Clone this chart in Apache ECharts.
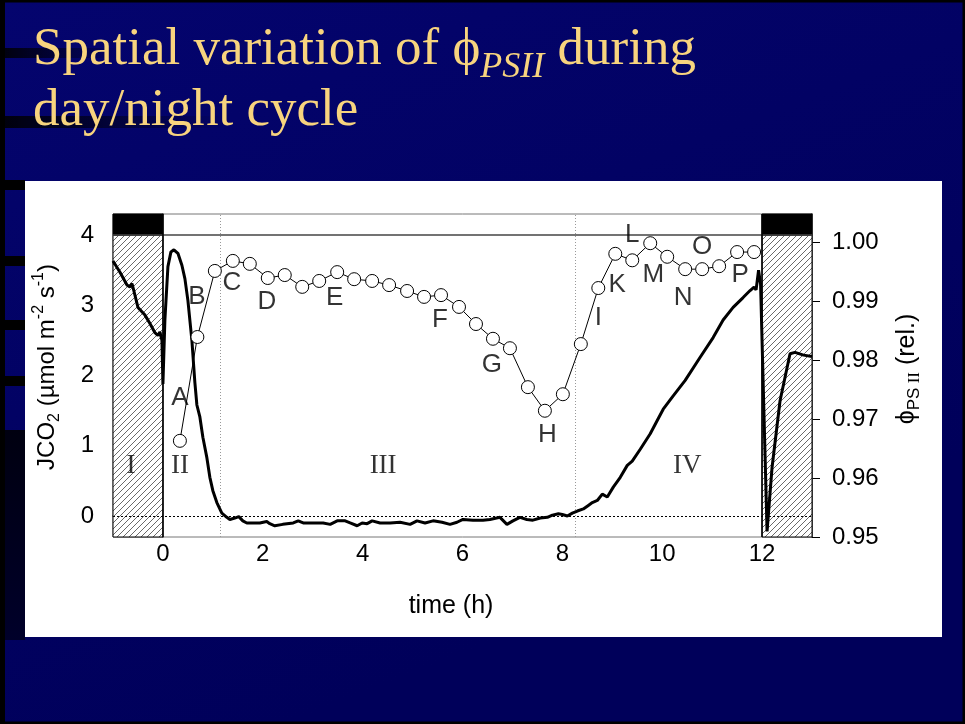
<!DOCTYPE html>
<html><head><meta charset="utf-8">
<script src="https://cdn.jsdelivr.net/npm/echarts@6/dist/echarts.min.js"></script>
<style>html,body{margin:0;padding:0;background:#000066;} #c{width:965px;height:724px;}</style>
</head><body><div id="c"></div>
<script>
// ---------- data ----------
const xTicks = [0, 2, 4, 6, 8, 10, 12];
const leftTicks = [0, 1, 2, 3, 4];
const rightTicks = [0.95, 0.96, 0.97, 0.98, 0.99, 1.00];

// phi PSII (open circles, right axis)
const phiTime = [0.34,0.69,1.04,1.40,1.74,2.10,2.44,2.79,3.13,3.49,3.83,4.19,4.53,4.89,5.23,5.57,5.93,6.27,6.61,6.95,7.31,7.65,8.01,8.37,8.72,9.06,9.40,9.76,10.10,10.46,10.80,11.14,11.50,11.84];
const phiValues = [0.9663,0.9839,0.9951,0.9968,0.9963,0.9939,0.9944,0.9924,0.9934,0.9949,0.9937,0.9934,0.9927,0.9917,0.9907,0.9910,0.9890,0.9861,0.9836,0.9820,0.9754,0.9714,0.9742,0.9827,0.9922,0.9980,0.9969,0.9998,0.9975,0.9954,0.9954,0.9959,0.9983,0.9983];

// JCO2 (thick line, left axis)
const co2Time = [-1.00,-0.86,-0.72,-0.66,-0.62,-0.58,-0.50,-0.36,-0.26,-0.16,-0.10,-0.06,-0.02,0.00,0.04,0.10,0.16,0.22,0.30,0.38,0.44,0.50,0.58,0.64,0.68,0.74,0.80,0.88,0.94,1.00,1.08,1.18,1.28,1.34,1.44,1.52,1.60,1.68,1.80,1.94,2.08,2.14,2.24,2.40,2.61,2.71,2.81,3.01,3.21,3.35,3.49,3.65,3.75,3.89,3.99,4.09,4.19,4.35,4.55,4.75,4.95,5.09,5.25,5.41,5.59,5.75,5.89,6.01,6.21,6.41,6.55,6.75,6.89,7.01,7.15,7.29,7.41,7.56,7.70,7.80,7.92,8.00,8.10,8.20,8.30,8.42,8.52,8.60,8.70,8.80,8.90,9.02,9.16,9.30,9.40,9.56,9.76,9.90,10.02,10.22,10.46,10.76,11.02,11.22,11.42,11.62,11.76,11.84,11.88,11.93,11.97,12.10,12.20,12.36,12.56,12.66,12.83,13.00];
const co2Values = [3.63,3.47,3.29,3.26,3.31,3.20,2.97,2.86,2.74,2.61,2.57,2.62,2.50,1.88,2.80,3.55,3.76,3.79,3.74,3.57,3.38,3.07,2.50,1.90,1.58,1.41,1.12,0.83,0.55,0.36,0.19,0.04,-0.02,-0.05,-0.03,-0.01,-0.07,-0.10,-0.10,-0.10,-0.08,-0.11,-0.14,-0.12,-0.10,-0.07,-0.10,-0.10,-0.10,-0.12,-0.07,-0.07,-0.10,-0.14,-0.10,-0.11,-0.07,-0.10,-0.10,-0.09,-0.12,-0.07,-0.10,-0.07,-0.09,-0.12,-0.09,-0.05,-0.06,-0.06,-0.05,-0.02,-0.12,-0.07,-0.02,-0.05,-0.06,-0.03,-0.02,0.01,0.03,0.02,0.00,0.04,0.07,0.10,0.15,0.19,0.22,0.31,0.27,0.41,0.55,0.72,0.78,0.95,1.17,1.36,1.52,1.71,1.93,2.26,2.54,2.79,2.97,3.11,3.21,3.26,3.22,3.50,3.30,-0.22,0.69,1.64,2.31,2.33,2.29,2.27];

// point letters (time h, phi value)
const letterNames = ['A','B','C','D','E','F','G','H','I','K','L','M','N','O','P'];
const letterTime  = [0.34,0.68,1.38,2.08,3.44,5.55,6.59,7.70,8.72,9.10,9.40,9.82,10.42,10.80,11.56];
const letterPhi   = [0.9736,0.9907,0.9931,0.9898,0.9905,0.9868,0.9792,0.9673,0.9871,0.9927,1.0012,0.9944,0.9905,0.9992,0.9944];

// phase numerals (time h, JCO2 value)
const phaseNames = ['I','II','III','IV'];
const phaseTime  = [-0.64,0.34,4.41,10.5];
const phaseY     = [0.71,0.71,0.71,0.71];

// night periods, dotted phase boundaries
const nightPeriods = [[-1, 0], [12, 13]];
const phaseBounds = [1.15, 8.25];

// ---------- chart ----------
const hatch = document.createElement('canvas');
hatch.width = 6; hatch.height = 6;
(function(){
  const g = hatch.getContext('2d');
  g.fillStyle = '#fff'; g.fillRect(0,0,6,6);
  g.strokeStyle = '#444'; g.lineWidth = 0.8;
  g.beginPath();
  g.moveTo(0,6); g.lineTo(6,0);
  g.moveTo(-1,1); g.lineTo(1,-1);
  g.moveTo(5,7); g.lineTo(7,5);
  g.stroke();
})();

const chart = echarts.init(document.getElementById('c'), null, {renderer:'canvas'});
const SANS = 'Liberation Sans, Arial, sans-serif';
const SERIF = 'Liberation Serif, Times New Roman, serif';

const markAreaData = [];
nightPeriods.forEach(p => {
  markAreaData.push([{coord:[p[0], -0.3], itemStyle:{color:{image:hatch, repeat:'repeat'}, borderColor:'#000', borderWidth:1}}, {coord:[p[1], 4]}]);
  markAreaData.push([{coord:[p[0], 4], itemStyle:{color:'#000', borderColor:'#000', borderWidth:1}}, {coord:[p[1], 4.3]}]);
});

const markLineData = [
  {yAxis: 4, lineStyle:{color:'#444', width:1.5, type:'solid'}},
  {yAxis: 0, lineStyle:{color:'#000', width:1, type:[2,2]}},
  {xAxis: 0, lineStyle:{color:'#000', width:1.5, type:'solid'}},
  {xAxis: 12, lineStyle:{color:'#000', width:1.5, type:'solid'}}
];
phaseBounds.forEach(b => markLineData.push({xAxis:b, lineStyle:{color:'#999', width:1, type:[1,2]}}));

const option = {
  animation: false,
  backgroundColor: 'transparent',
  grid: {left:113, right:153, top:214, bottom:187, show:true, borderColor:'#777', borderWidth:1, backgroundColor:'#fff', z:1},
  xAxis: {
    type:'value', min:-1, max:13,
    axisLine:{show:true, lineStyle:{color:'#000', width:1.5}},
    axisTick:{show:true, customValues:xTicks, length:7, lineStyle:{color:'#000', width:1}},
    axisLabel:{customValues:xTicks, fontSize:24, fontFamily:SANS, color:'#000', margin:5},
    splitLine:{show:false}
  },
  yAxis: [{
    type:'value', min:-0.3, max:4.3,
    axisLine:{show:true, lineStyle:{color:'#000', width:1.5}},
    axisTick:{show:true, customValues:leftTicks, length:8, lineStyle:{color:'#000'}},
    axisLabel:{customValues:leftTicks, fontSize:24, fontFamily:SANS, color:'#000', margin:19},
    splitLine:{show:false}
  },{
    type:'value', min:0.95, max:1.00475, position:'right',
    axisLine:{show:true, lineStyle:{color:'#000', width:1.5}},
    axisTick:{show:true, customValues:rightTicks, length:8, lineStyle:{color:'#000'}},
    axisLabel:{customValues:rightTicks, fontSize:24, fontFamily:SANS, color:'#000', margin:20, formatter:v => v.toFixed(2)},
    splitLine:{show:false}
  }],
  series: [
    {
      type:'line', yAxisIndex:0, z:5,
      data: co2Time.map((t,i) => [t, co2Values[i]]),
      showSymbol:false, symbol:'none',
      lineStyle:{color:'#000', width:3},
      markArea:{silent:true, data:markAreaData},
      markLine:{silent:true, symbol:'none', label:{show:false}, data:markLineData}
    },
    {
      type:'line', yAxisIndex:1, z:6,
      data: phiTime.map((t,i) => [t, phiValues[i]]),
      symbol:'circle', symbolSize:13, showSymbol:true,
      itemStyle:{color:'#fff', borderColor:'#000', borderWidth:1},
      lineStyle:{color:'#000', width:1}
    },
    {
      type:'scatter', yAxisIndex:1, z:7, symbolSize:1, itemStyle:{color:'rgba(0,0,0,0)'},
      data: letterNames.map((n,i) => ({name:n, value:[letterTime[i], letterPhi[i]]})),
      label:{show:true, position:'inside', formatter:'{b}', fontSize:26, fontFamily:SANS, color:'#000'}
    },
    {
      type:'scatter', yAxisIndex:0, z:7, symbolSize:1, itemStyle:{color:'rgba(0,0,0,0)'},
      data: phaseNames.map((n,i) => ({name:n, value:[phaseTime[i], phaseY[i]]})),
      label:{show:true, position:'inside', formatter:'{b}', fontSize:27, fontFamily:SERIF, color:'#000'}
    }
  ],
  graphic: [
    {type:'rect', z:-10, shape:{x:0,y:0,width:965,height:724}, style:{fill:{type:'linear',x:0,y:0,x2:0.3,y2:1,colorStops:[{offset:0,color:'#04046e'},{offset:1,color:'#00005a'}]}}},
    {type:'rect', z:-9, shape:{x:0,y:116,width:230,height:12}, style:{fill:{type:'linear',x:0,y:0,x2:1,y2:0,colorStops:[{offset:0,color:'rgba(0,0,0,0.9)'},{offset:1,color:'rgba(0,0,0,0)'}]}}},
    {type:'rect', z:-9, shape:{x:0,y:48,width:120,height:10}, style:{fill:{type:'linear',x:0,y:0,x2:1,y2:0,colorStops:[{offset:0,color:'rgba(0,0,0,0.9)'},{offset:1,color:'rgba(0,0,0,0)'}]}}},
    {type:'rect', z:-9, shape:{x:0,y:180,width:25,height:10}, style:{fill:'#000'}},
    {type:'rect', z:-9, shape:{x:0,y:256,width:25,height:10}, style:{fill:'#000'}},
    {type:'rect', z:-9, shape:{x:0,y:320,width:25,height:10}, style:{fill:'#000'}},
    {type:'rect', z:-9, shape:{x:0,y:376,width:25,height:10}, style:{fill:'#000'}},
    {type:'rect', z:-9, shape:{x:0,y:430,width:25,height:210}, style:{fill:{type:'linear',x:0,y:0,x2:0,y2:1,colorStops:[{offset:0,color:'#000010'},{offset:1,color:'#00002a'}]}}},
    {type:'rect', z:-8, shape:{x:1,y:1,width:963,height:722}, style:{fill:'none', stroke:'#000', lineWidth:3}},
    {type:'rect', z:-8, shape:{x:0,y:0,width:5,height:724}, style:{fill:'#000'}},
    {type:'rect', z:-7, shape:{x:25,y:181,width:917,height:456}, style:{fill:'#fff'}},
    {type:'text', z:10, x:33, y:24, style:{
      text:'{a|Spatial variation of ϕ}{s|PSII}{a| during}',
      rich:{
        a:{fontFamily:SERIF, fontSize:53, lineHeight:62, fill:'#F8D47E', verticalAlign:'top'},
        s:{fontFamily:SERIF, fontStyle:'italic', fontSize:36, lineHeight:30, fill:'#F8D47E', verticalAlign:'bottom'}
      }}},
    {type:'text', z:10, x:33, y:85, style:{text:'day/night cycle', font:'53px ' + SERIF, fill:'#F8D47E'}},
    {type:'text', z:10, x:47, y:367, rotation:Math.PI/2, style:{
      text:'{m|JCO}{sb|2}{m| (µmol m}{sp|-2}{m| s}{sp|-1}{m|)}',
      align:'center', verticalAlign:'middle',
      rich:{
        m:{fontFamily:SANS, fontSize:24, lineHeight:32, fill:'#000'},
        sb:{fontFamily:SANS, fontSize:16, lineHeight:18, fill:'#000', verticalAlign:'bottom'},
        sp:{fontFamily:SANS, fontSize:16, lineHeight:18, fill:'#000', verticalAlign:'top'}
      }}},
    {type:'text', z:10, x:907, y:369, rotation:Math.PI/2, style:{
      text:'{m|ϕ}{sb|PS}{sr| II}{m| (rel.)}',
      align:'center', verticalAlign:'middle',
      rich:{
        m:{fontFamily:SANS, fontSize:25, lineHeight:32, fill:'#000'},
        sb:{fontFamily:SANS, fontSize:17, lineHeight:20, fill:'#000', verticalAlign:'bottom'},
        sr:{fontFamily:SERIF, fontSize:17, lineHeight:20, fill:'#000', verticalAlign:'bottom'}
      }}},
    {type:'text', z:10, x:451, y:606, style:{text:'time (h)', font:'25px ' + SANS, fill:'#000', align:'center', verticalAlign:'middle'}}
  ]
};
chart.setOption(option);
</script></body></html>
